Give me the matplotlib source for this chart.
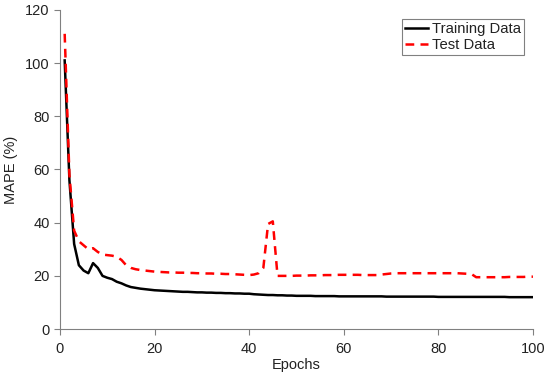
import numpy as np
import matplotlib.pyplot as plt

plt.rcParams['font.family'] = ['Liberation Sans', 'DejaVu Sans']

# DATA (one value per epoch)

epochs = np.arange(1, 101)

training = [
    101.0, 56.0, 32.0, 24.0, 22.0, 21.0, 24.8, 23.0, 20.0, 19.3,
    18.8, 17.8, 17.2, 16.4, 15.8, 15.5, 15.2, 15.0, 14.8, 14.6,
    14.5, 14.4, 14.3, 14.2, 14.1, 14.0, 14.0, 13.9, 13.8, 13.8,
    13.7, 13.7, 13.6, 13.6, 13.5, 13.5, 13.4, 13.4, 13.3, 13.3,
    13.1, 13.0, 12.9, 12.8, 12.8, 12.7, 12.7, 12.6, 12.6, 12.5,
    12.5, 12.5, 12.5, 12.4, 12.4, 12.4, 12.4, 12.4, 12.3, 12.3,
    12.3, 12.3, 12.3, 12.3, 12.3, 12.3, 12.3, 12.3, 12.2, 12.2,
    12.2, 12.2, 12.2, 12.2, 12.2, 12.2, 12.2, 12.2, 12.2, 12.1,
    12.1, 12.1, 12.1, 12.1, 12.1, 12.1, 12.1, 12.1, 12.1, 12.1,
    12.1, 12.1, 12.1, 12.1, 12.0, 12.0, 12.0, 12.0, 12.0, 12.0,
]

test = [
    111.0, 58.0, 37.0, 33.0, 31.5, 30.0, 30.4, 29.0, 28.0, 27.8,
    27.6, 27.2, 26.0, 24.0, 23.0, 22.5, 22.2, 22.0, 21.8, 21.6,
    21.5, 21.4, 21.3, 21.3, 21.2, 21.2, 21.1, 21.1, 21.0, 21.0,
    20.9, 20.9, 20.8, 20.8, 20.7, 20.7, 20.6, 20.5, 20.4, 20.3,
    20.5, 21.0, 23.0, 39.5, 40.5, 20.0, 20.0, 20.0, 20.0, 20.1,
    20.1, 20.1, 20.2, 20.2, 20.2, 20.3, 20.3, 20.3, 20.4, 20.4,
    20.4, 20.4, 20.4, 20.3, 20.3, 20.3, 20.3, 20.5, 20.7, 20.9,
    21.0, 21.0, 21.0, 21.0, 21.0, 21.0, 21.0, 21.0, 21.0, 21.0,
    21.0, 21.0, 21.0, 21.0, 20.9, 20.8, 20.7, 19.5, 19.5, 19.5,
    19.5, 19.5, 19.5, 19.5, 19.6, 19.6, 19.6, 19.6, 19.7, 19.7,
]

# PLOT

fig = plt.figure(figsize=(5.5, 3.8), dpi=100)
ax = fig.add_axes([0.109, 0.134, 0.86, 0.84])

ax.plot(epochs, training, color="black", linewidth=1.8, label="Training Data")
ax.plot(epochs, test, color="red", linewidth=1.8, linestyle=(0, (3.5, 2.5)),
        label="Test Data")

ax.set_xlim(0, 100)
ax.set_ylim(0, 120)
ax.set_xticks(range(0, 101, 20))
ax.set_yticks(range(0, 121, 20))

for side in ["top", "right"]:
    ax.spines[side].set_visible(False)
for side in ["left", "bottom"]:
    ax.spines[side].set_color("#808080")
ax.tick_params(colors="#808080", labelcolor="#222222", labelsize=10.5,
               direction="out", length=4)
ax.tick_params(axis="x", pad=5)

ax.set_xlabel("Epochs", fontsize=10.5, labelpad=2, color="#222222")
ax.set_ylabel("MAPE (%)", fontsize=10.5, labelpad=5, color="#222222")

leg = ax.legend(loc="upper right", fontsize=10.7, fancybox=False,
                framealpha=1, edgecolor="#808080", handlelength=1.5,
                handletextpad=0.3, borderpad=0.2, labelspacing=0.15,
                borderaxespad=0.0, bbox_to_anchor=(0.981, 0.972))
leg.get_frame().set_linewidth(0.8)
for txt in leg.get_texts():
    txt.set_color("#222222")

fig.savefig("out.png", dpi=100)
